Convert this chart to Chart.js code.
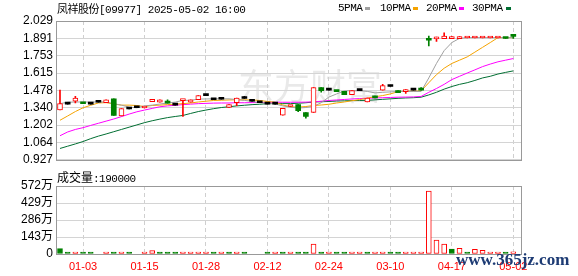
<!DOCTYPE html>
<html>
<head>
<meta charset="utf-8">
<script src="https://cdn.jsdelivr.net/npm/chart.js@4.4.1/dist/chart.umd.min.js"></script>
<style>
  html, body { margin: 0; padding: 0; background: #fff; }
  #wrap { position: relative; width: 578px; height: 276px; overflow: hidden; }
  #wrap canvas { position: absolute; left: 0; }
  #kline { top: 0; }
  #vol { top: 170px; }
  .txt { position: absolute; white-space: nowrap; color: #000; font-family: "Liberation Mono", "Noto Sans CJK SC", monospace; font-size: 11px; letter-spacing: -0.5px; line-height: 17px; }
  .cjk { font-family: "Noto Sans CJK SC", sans-serif; }
  .sq { position: absolute; width: 5px; height: 3px; top: 7px; }
  #site { position: absolute; left: 456px; top: 250px; font: bold 17px "Liberation Serif", serif; color: #1d3b74; line-height: 20px; z-index: 5; }
</style>
</head>
<body>
<div id="wrap">
  <canvas id="kline" width="578" height="170"></canvas>
  <canvas id="vol" width="578" height="106"></canvas>
  <div class="txt" style="left:57px;top:0;"><span class="cjk">凤祥股份</span>[09977] 2025-05-02 16:00</div>
  <div class="txt" style="left:338px;top:0;">5PMA</div><div class="sq" style="left:365px;background:#a0a0a0;"></div>
  <div class="txt" style="left:380px;top:0;">10PMA</div><div class="sq" style="left:413px;background:#f5a300;"></div>
  <div class="txt" style="left:426px;top:0;">20PMA</div><div class="sq" style="left:459px;background:#ff00ff;"></div>
  <div class="txt" style="left:472px;top:0;">30PMA</div><div class="sq" style="left:506px;background:#006e32;"></div>
  <div class="txt" style="left:57px;top:168px;line-height:18px;"><span class="cjk" style="font-size:12px;letter-spacing:0;">成交量</span>:190000</div>
  <div id="site">www.365jz.com</div>
</div>
<script>
// ---- data ----
const tickIndex = [3, 11, 19, 27, 35, 43, 51, 59];
const tickLabels = ['01-03', '01-15', '01-28', '02-12', '02-24', '03-10', '04-17', '05-02'];
const priceTicks = [0.927, 1.064, 1.202, 1.340, 1.478, 1.615, 1.753, 1.891, 2.029];
const volTicks = [0, 143, 286, 429, 572];
const prevClose = 1.40;

const openP = [1.323, 1.369, 1.392, 1.376, 1.369, 1.384, 1.381, 1.412, 1.275, 1.330,
  1.340, 1.338, 1.389, 1.384, 1.380, 1.361, 1.397, 1.384, 1.404, 1.437,
  1.404, 1.408, 1.342, 1.381, 1.414, 1.392, 1.380, 1.369, 1.369, 1.281,
  1.350, 1.365, 1.302, 1.304, 1.501, 1.480, 1.472, 1.470, 1.445, 1.476,
  1.386, 1.432, 1.480, 1.509, 1.476, 1.468, 1.480, 1.484, 1.882, 1.887,
  1.889, 1.889, 1.889, 1.894, 1.894, 1.894, 1.894, 1.894, 1.893, 1.911];
const highP = [1.480, 1.369, 1.430, 1.376, 1.369, 1.384, 1.404, 1.412, 1.333, 1.330,
  1.340, 1.344, 1.407, 1.404, 1.404, 1.361, 1.407, 1.404, 1.437, 1.437,
  1.404, 1.408, 1.365, 1.417, 1.430, 1.392, 1.380, 1.369, 1.369, 1.335,
  1.355, 1.365, 1.302, 1.501, 1.501, 1.480, 1.472, 1.470, 1.476, 1.476,
  1.417, 1.432, 1.526, 1.509, 1.476, 1.485, 1.480, 1.500, 1.909, 1.901,
  1.935, 1.906, 1.906, 1.898, 1.898, 1.898, 1.898, 1.898, 1.893, 1.920];
const lowP = [1.323, 1.369, 1.378, 1.372, 1.369, 1.384, 1.381, 1.279, 1.275, 1.330,
  1.340, 1.338, 1.389, 1.384, 1.377, 1.361, 1.271, 1.384, 1.404, 1.437,
  1.404, 1.408, 1.342, 1.356, 1.414, 1.392, 1.380, 1.369, 1.369, 1.281,
  1.350, 1.310, 1.258, 1.304, 1.463, 1.480, 1.468, 1.445, 1.445, 1.476,
  1.386, 1.419, 1.480, 1.509, 1.460, 1.455, 1.480, 1.480, 1.832, 1.866,
  1.889, 1.889, 1.889, 1.894, 1.894, 1.894, 1.894, 1.894, 1.890, 1.891];
const closeP = [1.373, 1.369, 1.417, 1.372, 1.369, 1.384, 1.404, 1.279, 1.333, 1.330,
  1.340, 1.344, 1.407, 1.404, 1.377, 1.361, 1.401, 1.404, 1.437, 1.437,
  1.404, 1.408, 1.365, 1.417, 1.414, 1.392, 1.380, 1.369, 1.369, 1.335,
  1.355, 1.317, 1.271, 1.501, 1.476, 1.480, 1.468, 1.445, 1.476, 1.476,
  1.417, 1.419, 1.516, 1.509, 1.460, 1.472, 1.480, 1.480, 1.876, 1.891,
  1.909, 1.906, 1.906, 1.898, 1.898, 1.898, 1.898, 1.898, 1.890, 1.907];

const ma5 = [1.373, 1.384, 1.386, 1.386, 1.386, 1.386, 1.386, 1.372, 1.361, 1.345,
  1.340, 1.355, 1.361, 1.370, 1.378, 1.385, 1.399, 1.399, 1.409, 1.410,
  1.411, 1.411, 1.411, 1.405, 1.399, 1.390, 1.380, 1.378, 1.370, 1.355,
  1.345, 1.338, 1.342, 1.352, 1.380, 1.425, 1.450, 1.474, 1.476, 1.476,
  1.470, 1.458, 1.463, 1.466, 1.470, 1.470, 1.470, 1.470, 1.577, 1.692,
  1.794, 1.858, 1.891, 1.897, 1.897, 1.897, 1.897, 1.897, 1.897, 1.897];
const ma10 = [1.241, 1.275, 1.310, 1.340, 1.360, 1.378, 1.381, 1.370, 1.361, 1.361,
  1.358, 1.350, 1.358, 1.361, 1.365, 1.369, 1.373, 1.378, 1.386, 1.392,
  1.398, 1.400, 1.402, 1.403, 1.403, 1.402, 1.398, 1.390, 1.384, 1.362,
  1.348, 1.345, 1.350, 1.358, 1.362, 1.368, 1.378, 1.386, 1.396, 1.405,
  1.417, 1.428, 1.437, 1.450, 1.468, 1.472, 1.472, 1.474, 1.539, 1.603,
  1.654, 1.692, 1.718, 1.744, 1.782, 1.820, 1.858, 1.897, 1.897, 1.897];
const ma20 = [1.118, 1.148, 1.168, 1.182, 1.200, 1.217, 1.234, 1.251, 1.270, 1.290,
  1.308, 1.322, 1.335, 1.348, 1.355, 1.360, 1.365, 1.369, 1.373, 1.375,
  1.377, 1.378, 1.378, 1.380, 1.380, 1.381, 1.382, 1.383, 1.384, 1.384,
  1.384, 1.384, 1.385, 1.387, 1.392, 1.398, 1.402, 1.406, 1.410, 1.413,
  1.416, 1.418, 1.420, 1.422, 1.424, 1.425, 1.426, 1.430, 1.463, 1.493,
  1.526, 1.564, 1.590, 1.616, 1.641, 1.667, 1.687, 1.705, 1.718, 1.731];
const ma30 = [1.017, 1.035, 1.053, 1.072, 1.095, 1.115, 1.132, 1.150, 1.168, 1.186,
  1.204, 1.222, 1.237, 1.250, 1.262, 1.271, 1.279, 1.295, 1.310, 1.322,
  1.333, 1.342, 1.348, 1.355, 1.360, 1.365, 1.368, 1.373, 1.373, 1.373,
  1.373, 1.376, 1.380, 1.386, 1.388, 1.390, 1.394, 1.395, 1.397, 1.398,
  1.399, 1.403, 1.407, 1.411, 1.415, 1.418, 1.420, 1.424, 1.442, 1.463,
  1.488, 1.509, 1.526, 1.539, 1.557, 1.577, 1.590, 1.608, 1.621, 1.633];

// volume in 万 shares, null = no trade
const volume = [45, 6, 6, 6, 15, null, 6, 6, 6, 6,
  null, 6, 28, 6, 6, 6, 6, 6, 15, 6,
  6, 6, 14, 6, 6, null, null, 6, 6, 6,
  6, 6, 6, 84, 6, 6, 6, 6, 6, 6,
  6, 6, 16, 6, 6, 6, 6, 6, 530, 118,
  84, 42, 48, 8, 39, 31, 17, 8, 6, 19];

// ---- styling ----
const RED = '#ff0000', GREEN = '#008000', FLAT = '#000000';
const idx = closeP.map((_, i) => i);
const candleColor = idx.map(i => closeP[i] > openP[i] ? RED : closeP[i] < openP[i] ? GREEN : FLAT);
const volUp = idx.map(i => closeP[i] >= (i ? closeP[i - 1] : prevClose));
const labelFont = { family: '"Liberation Sans", "Noto Sans CJK SC", sans-serif', size: 12 };

// plot frame, drawn under the marks
const framePlugin = {
  id: 'frame',
  beforeDatasetsDraw(chart) {
    const { ctx, chartArea: a } = chart;
    ctx.save();
    ctx.strokeStyle = '#999';
    ctx.lineWidth = 1;
    ctx.strokeRect(Math.round(a.left) + 0.5, Math.round(a.top) + 0.5, Math.round(a.right - a.left) - 1, Math.round(a.bottom - a.top));
    ctx.restore();
  }
};

const watermark = {
  id: 'watermark',
  beforeDraw(chart) {
    const { ctx } = chart;
    ctx.save();
    ctx.fillStyle = 'rgba(0,0,0,0.085)';
    ctx.font = '36px "Noto Sans CJK SC"';
    ctx.textAlign = 'center';
    ctx.textBaseline = 'middle';
    ctx.fillText('东方财富', 310, 86);
    ctx.restore();
  }
};

function xAxis(showLabels) {
  return {
    type: 'linear', min: -0.52, max: 60.13, offset: false,
    afterBuildTicks: s => { s.ticks = tickIndex.map(v => ({ value: v })); },
    afterFit: s => { s.height = showLabels ? 22 : 0; },
    grid: { color: '#cfcfcf', drawTicks: false, offset: false },
    border: { display: false, dash: [4, 3] },
    ticks: {
      display: showLabels, autoSkip: false, maxRotation: 0, padding: 6,
      color: '#ff0000', font: { family: '"Liberation Sans", sans-serif', size: 11 },
      callback: v => tickLabels[tickIndex.indexOf(v)] ?? ''
    }
  };
}

function yAxis(min, max, values, fmt) {
  return {
    min, max,
    afterBuildTicks: s => { s.ticks = values.map(v => ({ value: v })); },
    afterFit: s => { s.width = 56; },
    grid: { color: '#d4d4d4', drawTicks: false },
    border: { display: false },
    ticks: { color: '#000', font: labelFont, padding: 3, autoSkip: false, callback: fmt }
  };
}

const maLine = (label, values, color) => ({
  type: 'line', label, order: 2,
  data: values.map((v, i) => ({ x: i, y: v })),
  borderColor: color, borderWidth: 1, pointRadius: 0, tension: 0, fill: false
});

new Chart(document.getElementById('kline'), {
  data: {
    datasets: [
      {
        type: 'bar', label: 'body', order: 0, grouped: false,
        data: idx.map(i => ({ x: i, y: [openP[i], closeP[i]] })),
        backgroundColor: idx.map(i => candleColor[i] === RED ? '#ffffff' : candleColor[i]),
        borderColor: candleColor,
        borderWidth: idx.map(i => candleColor[i] === RED ? 1 : 0),
        borderSkipped: false, barThickness: 5, minBarLength: 2
      },
      {
        type: 'bar', label: 'wick', order: 1, grouped: false,
        data: idx.map(i => ({ x: i, y: [lowP[i], highP[i]] })),
        backgroundColor: candleColor, borderWidth: 0, barThickness: 1
      },
      maLine('5PMA', ma5, '#a0a0a0'),
      maLine('10PMA', ma10, '#f5a300'),
      maLine('20PMA', ma20, '#ff00ff'),
      maLine('30PMA', ma30, '#006e32')
    ]
  },
  options: {
    responsive: false, animation: false,
    layout: { padding: { top: 21, right: 56, bottom: 5, left: 0 } },
    plugins: { legend: { display: false }, tooltip: { enabled: false } },
    scales: {
      x: xAxis(false),
      y: yAxis(0.927, 2.029, priceTicks, v => v.toFixed(3))
    }
  },
  plugins: [watermark, framePlugin]
});

new Chart(document.getElementById('vol'), {
  data: {
    datasets: [{
      type: 'bar', label: 'volume',
      data: idx.map(i => ({ x: i, y: volume[i] })),
      backgroundColor: idx.map(i => volUp[i] ? '#ffffff' : GREEN),
      borderColor: idx.map(i => volUp[i] ? RED : GREEN),
      borderWidth: 1, borderSkipped: false, barThickness: 5, minBarLength: 2
    }]
  },
  options: {
    responsive: false, animation: false,
    layout: { padding: { top: 16, right: 56, bottom: 0, left: 0 } },
    plugins: { legend: { display: false }, tooltip: { enabled: false } },
    scales: {
      x: xAxis(true),
      y: yAxis(0, 572, volTicks, v => v === 0 ? '0' : v + '万')
    }
  },
  plugins: [framePlugin]
});
</script>
</body>
</html>
